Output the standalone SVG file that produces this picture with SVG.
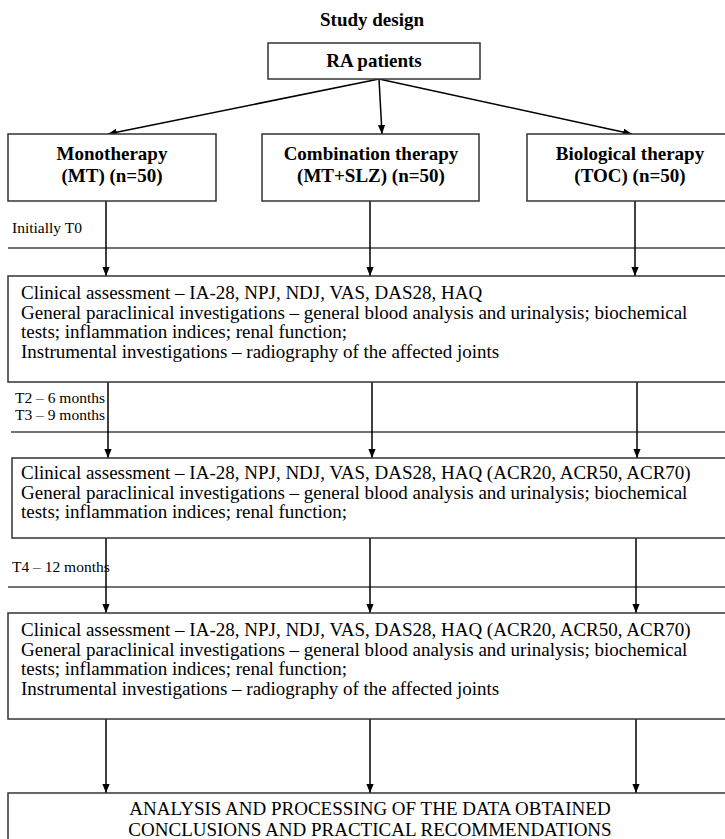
<svg xmlns="http://www.w3.org/2000/svg" width="725" height="839" viewBox="0 0 725 839">
<style>
.box{fill:#fff;stroke:#333;stroke-width:1.5}
.sep{stroke:#444;stroke-width:1.5}
.b{font-family:"Liberation Serif","Times New Roman",serif;font-size:19px;font-weight:bold;fill:#000}
.t{font-family:"Liberation Serif","Times New Roman",serif;font-size:19px;fill:#000}
.s{font-family:"Liberation Serif","Times New Roman",serif;font-size:15.5px;fill:#000}
.c{stroke:#000;stroke-width:1.5;fill:none}
</style>
<defs>
<marker id="ah" viewBox="0 0 10 8" refX="10" refY="4" markerWidth="9" markerHeight="7.2" markerUnits="userSpaceOnUse" orient="auto"><path d="M0,0 L10,4 L0,8 Z" fill="#000"/></marker>
</defs>
<rect width="725" height="839" fill="#fff"/>
<text class="b" x="372" y="26" text-anchor="middle">Study design</text>
<g id="separators">
<line class="sep" x1="8" y1="248" x2="725" y2="248"/>
<line class="sep" x1="11" y1="432" x2="725" y2="432"/>
<line class="sep" x1="8" y1="587" x2="725" y2="587"/>
</g>
<g id="labels">
<text class="s" x="12" y="233">Initially T0</text>
<text class="s" x="15" y="403">T2 – 6 months</text>
<text class="s" x="15" y="420">T3 – 9 months</text>
<text class="s" x="12" y="572">T4 – 12 months</text>
</g>
<g id="connectors">
<line class="c" x1="379" y1="79" x2="108" y2="134" marker-end="url(#ah)"/>
<line class="c" x1="379" y1="79" x2="382" y2="134" marker-end="url(#ah)"/>
<line class="c" x1="379" y1="79" x2="632" y2="134" marker-end="url(#ah)"/>
<line class="c" x1="106" y1="201" x2="106" y2="276" marker-end="url(#ah)"/>
<line class="c" x1="370" y1="201" x2="370" y2="276" marker-end="url(#ah)"/>
<line class="c" x1="635" y1="201" x2="635" y2="276" marker-end="url(#ah)"/>
<line class="c" x1="108" y1="382" x2="108" y2="458" marker-end="url(#ah)"/>
<line class="c" x1="372" y1="382" x2="372" y2="458" marker-end="url(#ah)"/>
<line class="c" x1="637" y1="382" x2="637" y2="458" marker-end="url(#ah)"/>
<line class="c" x1="106" y1="538" x2="106" y2="613" marker-end="url(#ah)"/>
<line class="c" x1="370" y1="538" x2="370" y2="613" marker-end="url(#ah)"/>
<line class="c" x1="636" y1="538" x2="636" y2="613" marker-end="url(#ah)"/>
<line class="c" x1="106" y1="719" x2="106" y2="793" marker-end="url(#ah)"/>
<line class="c" x1="370" y1="719" x2="370" y2="793" marker-end="url(#ah)"/>
<line class="c" x1="636" y1="719" x2="636" y2="793" marker-end="url(#ah)"/>
</g>
<g id="ra">
<rect class="box" x="268" y="43" width="212" height="36"/>
<text class="b" x="374" y="67" text-anchor="middle">RA patients</text>
</g>
<g id="mono">
<rect class="box" x="8" y="134" width="208" height="67"/>
<text class="b" x="112" y="160" text-anchor="middle">Monotherapy</text>
<text class="b" x="112" y="182" text-anchor="middle">(MT) (n=50)</text>
</g>
<g id="combo">
<rect class="box" x="262" y="134" width="217" height="67"/>
<text class="b" x="371" y="160" text-anchor="middle">Combination therapy</text>
<text class="b" x="371" y="182" text-anchor="middle">(MT+SLZ) (n=50)</text>
</g>
<g id="bio">
<rect class="box" x="527" y="134" width="210" height="67"/>
<text class="b" x="630" y="160" text-anchor="middle">Biological therapy</text>
<text class="b" x="630" y="182" text-anchor="middle">(TOC) (n=50)</text>
</g>
<g id="t0">
<rect class="box" x="8" y="276" width="729" height="106"/>
<text class="t" x="21" y="299">Clinical assessment – IA-28, NPJ, NDJ, VAS, DAS28, HAQ</text>
<text class="t" x="21" y="318.5">General paraclinical investigations – general blood analysis and urinalysis; biochemical</text>
<text class="t" x="21" y="338">tests; inflammation indices; renal function;</text>
<text class="t" x="21" y="357.5">Instrumental investigations – radiography of the affected joints</text>
</g>
<g id="t2t3">
<rect class="box" x="12" y="458" width="725" height="80"/>
<text class="t" x="21" y="479">Clinical assessment – IA-28, NPJ, NDJ, VAS, DAS28, HAQ (ACR20, ACR50, ACR70)</text>
<text class="t" x="21" y="498.5">General paraclinical investigations – general blood analysis and urinalysis; biochemical</text>
<text class="t" x="21" y="518">tests; inflammation indices; renal function;</text>
</g>
<g id="t4">
<rect class="box" x="8" y="613" width="729" height="106"/>
<text class="t" x="21" y="636">Clinical assessment – IA-28, NPJ, NDJ, VAS, DAS28, HAQ (ACR20, ACR50, ACR70)</text>
<text class="t" x="21" y="655.5">General paraclinical investigations – general blood analysis and urinalysis; biochemical</text>
<text class="t" x="21" y="675">tests; inflammation indices; renal function;</text>
<text class="t" x="21" y="694.5">Instrumental investigations – radiography of the affected joints</text>
</g>
<g id="final">
<rect class="box" x="8" y="793" width="729" height="60"/>
<text class="t" x="370" y="815" text-anchor="middle">ANALYSIS AND PROCESSING OF THE DATA OBTAINED</text>
<text class="t" x="370" y="836" text-anchor="middle">CONCLUSIONS AND PRACTICAL RECOMMENDATIONS</text>
</g>
</svg>
